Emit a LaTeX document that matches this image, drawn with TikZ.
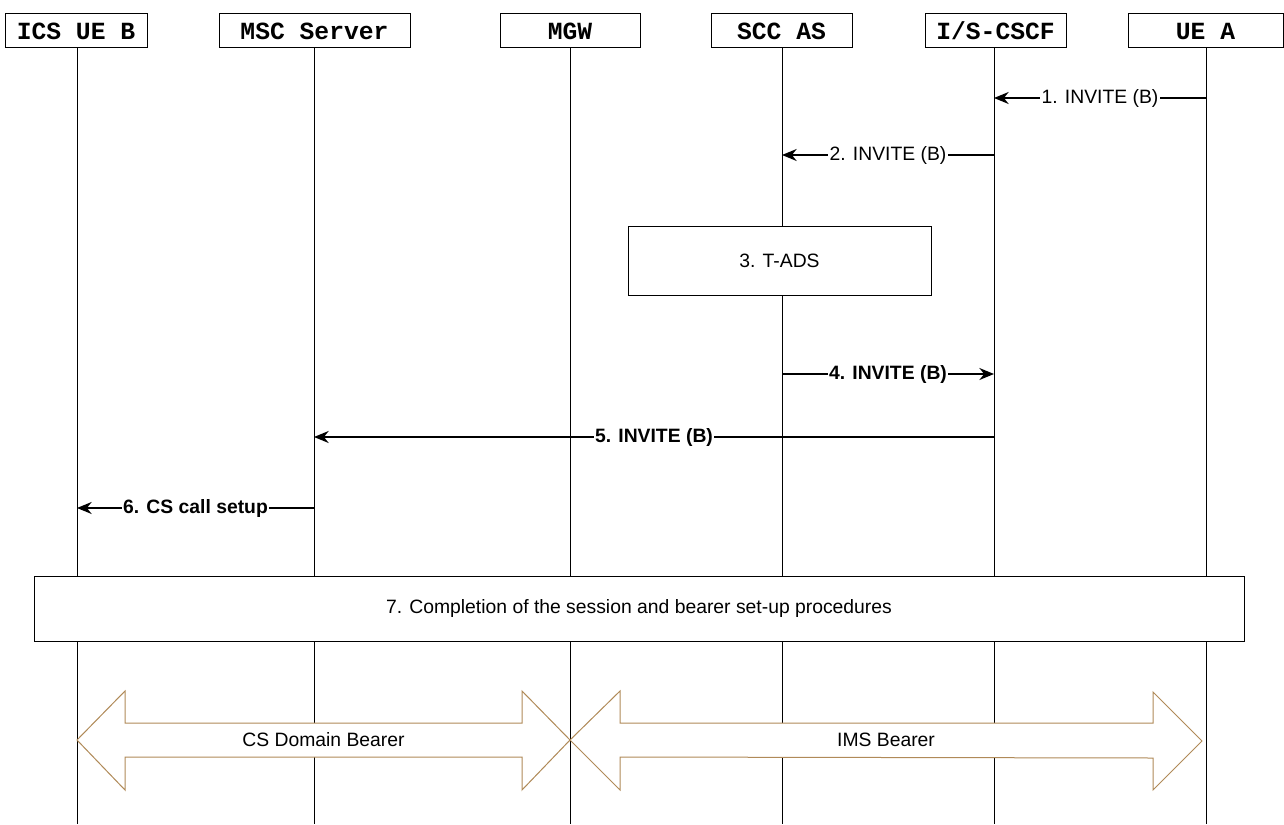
\documentclass[tikz,border=0pt]{standalone}
\usepackage{fontspec}
\setmainfont{Liberation Sans}
\newfontfamily\entfont{Liberation Mono}
\usetikzlibrary{arrows.meta}
\definecolor{bearer}{RGB}{176,138,88}
\newlength\pxl
\setlength\pxl{0.75pt}

\tikzset{
  entity/.style={draw, fill=white, line width=0.75pt, minimum height=34\pxl, inner sep=0pt,
    font=\entfont\bfseries\fontsize{18.5}{20}\selectfont},
  life/.style={line width=0.75pt},
  msg/.style={line width=1.1pt, -{Stealth[length=11pt,width=9pt]}},
  lbl/.style={fill=white, inner sep=1pt, font=\fontsize{14.5}{16}\selectfont},
  boldlbl/.style={lbl, font=\bfseries\fontsize{14.5}{16}\selectfont},
  procbox/.style={draw, fill=white, line width=0.75pt, inner sep=0pt,
    font=\fontsize{14.5}{16}\selectfont},
  bearerarrow/.style={draw=bearer, fill=white, line width=0.75pt, line join=miter},
}

\begin{document}
\begin{tikzpicture}[x=0.75pt, y=-0.75pt]
    \useasboundingbox (0,0) rectangle (1284,824);

    \node[entity, minimum width=142\pxl] (icsb) at (76,31) {ICS UE B};
    \node[entity, minimum width=191\pxl] (msc) at (314.5,31) {MSC Server};
    \node[entity, minimum width=140\pxl] (mgw) at (570,31) {MGW};
    \node[entity, minimum width=141\pxl] (sccas) at (781.5,31) {SCC AS};
    \node[entity, minimum width=141\pxl] (cscf) at (995.5,31) {I/S-CSCF};
    \node[entity, minimum width=155\pxl] (uea) at (1205.5,31) {UE A};

    \draw[life] (77,48) -- (77,824);
    \draw[life] (314,48) -- (314,824);
    \draw[life] (570,48) -- (570,824);
    \draw[life] (782,48) -- (782,824);
    \draw[life] (994,48) -- (994,824);
    \draw[life] (1206,48) -- (1206,824);

    \coordinate (icsb-life) at (77,0);
    \coordinate (msc-life) at (314,0);
    \coordinate (mgw-life) at (570,0);
    \coordinate (sccas-life) at (782,0);
    \coordinate (cscf-life) at (994,0);
    \coordinate (uea-life) at (1206,0);

    \draw[msg] (uea-life |- 0,98) -- node[lbl] {1. INVITE (B)} (cscf-life |- 0,98);
    \draw[msg] (cscf-life |- 0,155) -- node[lbl] {2. INVITE (B)} (sccas-life |- 0,155);

    \node[procbox, minimum width=303\pxl, minimum height=69\pxl] (tads) at (779.5,260.5) {3. T-ADS};

    \draw[msg] (sccas-life |- 0,374) -- node[boldlbl] {4. INVITE (B)} (cscf-life |- 0,374);
    \draw[msg] (cscf-life |- 0,437) -- node[boldlbl] {5. INVITE (B)} (msc-life |- 0,437);
    \draw[msg] (msc-life |- 0,508) -- node[boldlbl] {6. CS call setup} (icsb-life |- 0,508);

    \node[procbox, minimum width=1210\pxl, minimum height=65\pxl] (complete) at (639,608.5)
        {7. Completion of the session and bearer set-up procedures};

    \draw[bearerarrow] (77,740) -- (125,691) -- (125,723) -- (522,723) -- (522,691) -- (570,740)
        -- (522,790) -- (522,757) -- (125,757) -- (125,790) -- cycle;
    \node[font=\fontsize{14.5}{16}\selectfont] (csbearer) at (323.5,740) {CS Domain Bearer};

    \draw[bearerarrow] (570,740) -- (620,691) -- (620,723) -- (1153,723) -- (1153,692) -- (1202,741)
        -- (1153,790) -- (1153,758) -- (620,757) -- (620,790) -- cycle;
    \node[font=\fontsize{14.5}{16}\selectfont] (imsbearer) at (886,740) {IMS Bearer};
\end{tikzpicture}
\end{document}
